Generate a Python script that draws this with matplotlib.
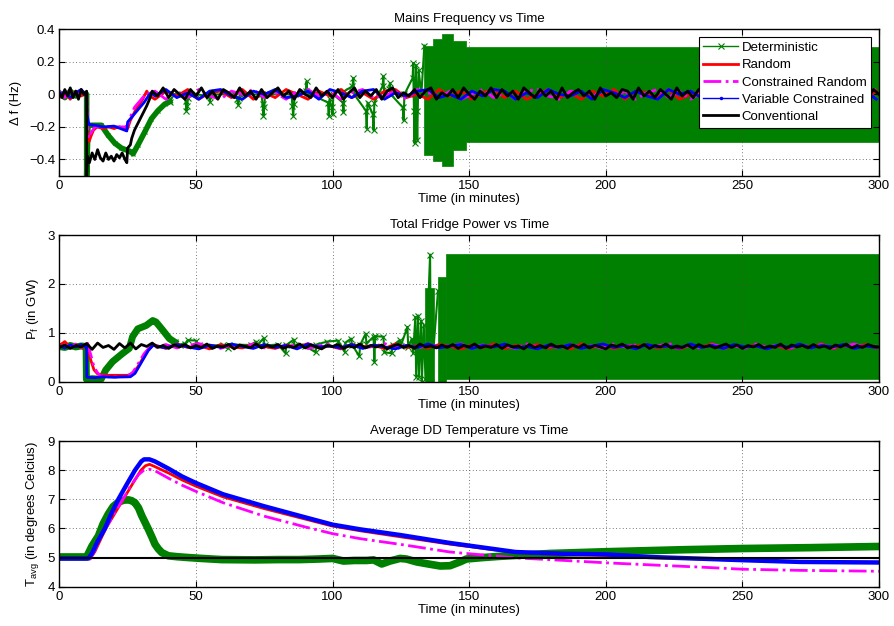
import numpy as np
import matplotlib
matplotlib.use('Agg')
import matplotlib.pyplot as plt
from matplotlib.lines import Line2D

plt.rcParams['font.family'] = ['Liberation Sans', 'DejaVu Sans']
plt.rcParams['mathtext.fontset'] = 'custom'
plt.rcParams['mathtext.rm'] = 'Liberation Sans'
plt.rcParams['mathtext.it'] = 'Liberation Sans'
plt.rcParams['mathtext.default'] = 'regular'

GREEN = '#008000'
RED = '#ff0000'
MAG = '#ff00ff'
BLUE = '#0000ff'
BLACK = '#000000'

names = ['Deterministic', 'Random', 'Constrained Random', 'Variable Constrained', 'Conventional']
xticks = [0, 50, 100, 150, 200, 250, 300]

# ---------------- panel 1: frequency deviation (Hz) ----------------
# pre-event samples (t = 0, 2, ... 10) and steady samples (t = 35, 39, ... 299)
red1_pre = [-0.02, 0.01, -0.03, 0.02, -0.01, 0.01]
red1_evt = [(10.3, -0.25), (10.9, -0.29), (11.5, -0.26), (12.5, -0.22), (13.8, -0.20), (16, -0.21),
            (18, -0.20), (20, -0.21), (22, -0.20), (24, -0.21), (25, -0.21), (26, -0.16), (27.8, -0.10),
            (29, -0.07), (30.5, -0.03), (32, 0.02), (33, -0.01)]
red1_ss = [-0.03, 0.02, -0.01, 0.03, -0.03, 0.01, 0.02, -0.02, 0.03, -0.03,
           0.01, -0.02, 0.03, 0.00, -0.03, 0.02, -0.01, 0.03, -0.02, 0.01,
           -0.03, 0.02, 0.03, -0.02, 0.00, -0.03, 0.03, -0.01, 0.02, -0.03,
           0.01, 0.03, -0.02, 0.02, -0.03, 0.00, 0.03, -0.02, 0.01, -0.03,
           0.02, -0.01, 0.03, -0.03, 0.02, 0.01, -0.02, 0.03, -0.03, 0.00,
           0.02, -0.02, 0.03, -0.01, -0.03, 0.02, 0.01, -0.02, 0.03, -0.03,
           0.01, 0.02, -0.02, 0.03, -0.01, -0.03, 0.02]

mag1_pre = [0.02, -0.02, 0.03, -0.01, 0.02, 0.00]
mag1_evt = [(10.3, -0.20), (10.8, -0.27), (11.5, -0.24), (13, -0.20), (16, -0.20), (20, -0.20),
            (24, -0.20), (25, -0.19), (26, -0.14), (27.5, -0.08), (29, -0.05), (30.5, -0.02),
            (32, 0.01), (33, 0.00)]
mag1_ss = [0.02, -0.03, 0.01, -0.02, 0.03, -0.01, -0.03, 0.02, 0.00, 0.03,
           -0.02, 0.01, -0.03, 0.02, 0.03, -0.01, 0.02, -0.03, 0.01, 0.03,
           -0.02, -0.01, 0.02, -0.03, 0.03, 0.01, -0.02, 0.02, -0.03, 0.00,
           0.03, -0.02, 0.01, -0.03, 0.02, 0.03, -0.01, -0.03, 0.02, 0.01,
           -0.02, 0.03, -0.01, 0.02, -0.03, 0.01, 0.03, -0.02, 0.02, -0.03,
           0.01, 0.00, -0.02, 0.03, -0.03, 0.02, -0.01, 0.03, 0.01, -0.02,
           0.02, -0.03, 0.03, 0.00, -0.02, 0.01, 0.03]

blue1_pre = [-0.01, 0.02, -0.02, 0.01, 0.03, -0.01]
blue1_evt = [(10.1, -0.12), (10.8, -0.185), (13, -0.19), (16, -0.20), (20, -0.195), (24.7, -0.225),
             (25, -0.17), (27, -0.13), (29, -0.09), (31, -0.05), (32.6, -0.01), (33.5, 0.01)]
blue1_ss = [-0.01, 0.03, -0.02, 0.01, -0.03, 0.02, 0.03, -0.01, -0.03, 0.02,
            0.00, 0.03, -0.02, -0.01, 0.02, -0.03, 0.03, 0.01, -0.02, 0.02,
            0.03, -0.03, 0.01, -0.01, 0.02, 0.03, -0.02, 0.00, -0.03, 0.02,
            -0.01, 0.03, 0.02, -0.03, 0.01, -0.02, 0.03, 0.00, -0.01, 0.02,
            -0.03, 0.03, 0.01, -0.02, 0.02, -0.01, -0.03, 0.03, 0.00, 0.02,
            -0.02, 0.03, -0.03, 0.01, 0.02, -0.01, 0.03, -0.02, 0.00, -0.03,
            0.02, 0.01, -0.02, 0.03, -0.01, 0.02, -0.03]

# conventional: pre-event every minute, steady every 2 minutes from t = 34
blk1_pre = [0.01, -0.02, 0.03, -0.01, 0.04, -0.02, 0.02, -0.03, 0.03, 0.00, 0.02]
blk1_evt = [(10.0, -0.50), (10.3, -0.38), (11, -0.42), (12, -0.36), (13, -0.40), (14, -0.34),
            (15, -0.39), (16, -0.41), (17, -0.36), (18, -0.40), (19, -0.38), (20, -0.41),
            (21, -0.37), (22, -0.39), (23, -0.36), (24, -0.40), (24.7, -0.42), (25, -0.33),
            (26, -0.31), (26.5, -0.27), (27.5, -0.22), (29, -0.17), (30.5, -0.12), (32, -0.07),
            (33, -0.03)]
blk1_ss = [0.02, -0.01, 0.04, -0.02, 0.03, 0.00, -0.03, 0.03, -0.01, 0.04,
           -0.02, 0.02, -0.03, 0.03, 0.01, -0.02, 0.04, -0.01, 0.02, -0.03,
           0.03, -0.02, 0.01, 0.04, -0.01, 0.02, -0.03, 0.03, 0.00, -0.02,
           0.04, -0.01, 0.02, -0.02, 0.03, -0.03, 0.01, 0.04, -0.02, 0.02,
           -0.01, 0.03, -0.03, 0.02, 0.04, -0.02, 0.01, -0.01, 0.03, -0.02,
           0.02, 0.04, -0.03, 0.01, -0.01, 0.03, -0.02, 0.04, 0.00, -0.03,
           0.02, -0.01, 0.04, -0.02, 0.03, -0.01, 0.02, -0.03, 0.04, 0.01,
           -0.02, 0.03, -0.01, 0.02, -0.03, 0.04, -0.02, 0.01, 0.03, -0.01,
           0.02, -0.03, 0.04, -0.01, 0.01, -0.02, 0.03, 0.02, -0.03, 0.04,
           -0.01, 0.02, -0.02, 0.03, 0.00, -0.03, 0.04, -0.01, 0.02, -0.02,
           0.03, -0.01, 0.04, -0.03, 0.02, 0.01, -0.02, 0.03, -0.01, 0.04,
           -0.02, 0.02, -0.03, 0.03, -0.01, 0.04, 0.00, -0.02, 0.03, -0.01,
           0.02, -0.03, 0.04, -0.02, 0.01, 0.03, -0.01, 0.02, -0.02, 0.03,
           0.01, -0.02, 0.03, 0.00]

# deterministic: thick transient, then spikes, then an oscillation band
grn1_pre = [0.01, -0.02, 0.02, -0.01, 0.01, 0.00]
grn1_trans = [(10.0, -0.50), (10.5, -0.19), (12, -0.19), (15.4, -0.19), (17.8, -0.25), (20.3, -0.30),
              (22.7, -0.33), (25.8, -0.35), (27, -0.365), (28.8, -0.31), (31.3, -0.23), (33.7, -0.15),
              (36.1, -0.10), (38.6, -0.06), (40.4, -0.045)]
grn1_spk = [(42, 0.0), (45, 0.0), (46.2, -0.04), (46.5, -0.10), (46.8, -0.07), (47.1, -0.02), (50, 0.0),
            (54.8, -0.01), (55.1, -0.045), (55.4, 0.0), (64, 0.0), (65.2, -0.03), (65.5, -0.065),
            (65.8, -0.02), (66.2, 0.0), (74, 0.0), (74.4, -0.06), (74.7, -0.13), (75.0, -0.08),
            (75.3, 0.0), (85, 0.0), (85.3, -0.07), (85.6, -0.13), (85.9, -0.06), (86.2, 0.0),
            (90.2, 0.02), (90.5, 0.08), (90.8, 0.01), (98.3, -0.05), (98.6, -0.13), (98.9, -0.03),
            (99.7, -0.08), (100, -0.12), (100.3, 0.0), (103.7, -0.05), (104, -0.11), (104.3, 0.02),
            (107.3, 0.05), (107.6, 0.10), (107.9, 0.0), (112.2, -0.10), (112.5, -0.21), (112.8, -0.05),
            (114.7, -0.12), (115, -0.22), (115.3, -0.05), (118.3, 0.05), (118.6, 0.11), (118.9, 0.0),
            (120.7, 0.03), (121, 0.07), (121.3, 0.0), (125.7, -0.08), (126, -0.16), (126.3, 0.0),
            (129.3, 0.10), (129.5, 0.19), (129.8, -0.10), (130, -0.30), (130.3, 0.0), (130.5, 0.18),
            (130.8, -0.10), (131, -0.28), (131.3, 0.0), (131.5, 0.15), (132.5, 0.0), (133.6, 0.30)]
# oscillation envelope: segment starts, and low / high edge from each start (last entry closes)
band1_t = [133.6, 136.9, 140.0, 144.2, 149.0, 300.0]
band1_lo = [-0.37, -0.41, -0.44, -0.34, -0.29, -0.29]
band1_hi = [0.30, 0.34, 0.37, 0.33, 0.29, 0.29]

# ---------------- panel 2: total fridge power (GW) ----------------
red2_pre = [0.74, 0.82, 0.70, 0.76, 0.69, 0.73]
red2_evt = [(10.3, 0.78), (11.5, 0.44), (12.7, 0.24), (14, 0.16), (15.2, 0.14), (18, 0.13), (22, 0.13),
            (25, 0.13), (26.8, 0.17), (28.7, 0.30), (30.5, 0.47), (32.3, 0.64), (34.2, 0.74)]
red2_ss = [0.75, 0.68, 0.77, 0.70, 0.74, 0.67, 0.76, 0.71, 0.69, 0.77,
           0.72, 0.68, 0.75, 0.70, 0.78, 0.69, 0.73, 0.67, 0.76, 0.71,
           0.74, 0.68, 0.77, 0.70, 0.73, 0.69, 0.76, 0.72, 0.67, 0.75,
           0.70, 0.77, 0.68, 0.74, 0.71, 0.76, 0.69, 0.73, 0.67, 0.77,
           0.70, 0.75, 0.68, 0.74, 0.72, 0.76, 0.69, 0.73, 0.67, 0.75,
           0.71, 0.77, 0.68, 0.74, 0.70, 0.76, 0.69, 0.72, 0.67, 0.75,
           0.71, 0.77, 0.68, 0.74, 0.70, 0.76, 0.69]

mag2_pre = [0.71, 0.75, 0.72, 0.77, 0.70, 0.74]
mag2_evt = [(10.3, 0.78), (11.5, 0.55), (12.7, 0.30), (14, 0.18), (15, 0.12), (18, 0.10), (22, 0.10),
            (25, 0.10), (27, 0.20), (29, 0.38), (31, 0.57), (33, 0.70), (34.5, 0.76)]
mag2_ss = [0.70, 0.76, 0.69, 0.74, 0.78, 0.71, 0.68, 0.75, 0.72, 0.77,
           0.69, 0.74, 0.71, 0.76, 0.68, 0.73, 0.77, 0.70, 0.75, 0.69,
           0.72, 0.78, 0.70, 0.74, 0.68, 0.76, 0.71, 0.73, 0.77, 0.69,
           0.75, 0.70, 0.74, 0.68, 0.77, 0.71, 0.73, 0.69, 0.76, 0.70,
           0.74, 0.68, 0.77, 0.71, 0.75, 0.69, 0.73, 0.78, 0.70, 0.74,
           0.68, 0.76, 0.71, 0.73, 0.69, 0.77, 0.70, 0.75, 0.68, 0.74,
           0.72, 0.76, 0.69, 0.73, 0.77, 0.70, 0.74]

blue2_pre = [0.73, 0.69, 0.75, 0.71, 0.76, 0.70]
blue2_evt = [(10.0, 0.72), (10.05, 0.09), (13, 0.08), (16, 0.10), (20, 0.09), (24, 0.10), (26, 0.10),
             (27.7, 0.17), (30.2, 0.41), (32.6, 0.64), (34.4, 0.75)]
blue2_ss = [0.73, 0.69, 0.76, 0.71, 0.67, 0.75, 0.70, 0.77, 0.72, 0.68,
            0.76, 0.70, 0.74, 0.67, 0.77, 0.71, 0.73, 0.69, 0.76, 0.68,
            0.75, 0.71, 0.67, 0.74, 0.70, 0.77, 0.69, 0.73, 0.76, 0.68,
            0.74, 0.71, 0.77, 0.69, 0.72, 0.67, 0.75, 0.70, 0.76, 0.68,
            0.73, 0.77, 0.70, 0.74, 0.67, 0.76, 0.71, 0.73, 0.69, 0.77,
            0.70, 0.74, 0.68, 0.76, 0.71, 0.73, 0.67, 0.75, 0.70, 0.77,
            0.69, 0.74, 0.71, 0.76, 0.68, 0.73, 0.70]

# conventional power, every 2 minutes from t = 0
blk2 = [0.70, 0.75, 0.68, 0.74, 0.71, 0.78, 0.66, 0.79, 0.70, 0.74,
        0.66, 0.78, 0.69, 0.79, 0.67, 0.76, 0.72, 0.79, 0.70, 0.74,
        0.68, 0.75, 0.71, 0.76, 0.69, 0.74, 0.70, 0.77, 0.68, 0.73,
        0.71, 0.76, 0.67, 0.75, 0.72, 0.70, 0.77, 0.69, 0.74, 0.71,
        0.76, 0.68, 0.73, 0.70, 0.77, 0.69, 0.75, 0.71, 0.67, 0.74,
        0.72, 0.76, 0.68, 0.73, 0.70, 0.77, 0.69, 0.74, 0.71, 0.75,
        0.67, 0.73, 0.76, 0.70, 0.74, 0.68, 0.77, 0.71, 0.73, 0.69,
        0.75, 0.70, 0.76, 0.68, 0.74, 0.71, 0.77, 0.69, 0.73, 0.70,
        0.76, 0.68, 0.75, 0.71, 0.73, 0.67, 0.76, 0.70, 0.74, 0.69,
        0.77, 0.71, 0.73, 0.68, 0.75, 0.70, 0.76, 0.69, 0.74, 0.71,
        0.67, 0.75, 0.72, 0.77, 0.69, 0.73, 0.70, 0.76, 0.68, 0.74,
        0.71, 0.77, 0.69, 0.73, 0.70, 0.75, 0.68, 0.76, 0.71, 0.74,
        0.69, 0.73, 0.77, 0.70, 0.75, 0.68, 0.74, 0.71, 0.76, 0.69,
        0.73, 0.70, 0.77, 0.68, 0.75, 0.71, 0.74, 0.69, 0.76, 0.70,
        0.73, 0.68, 0.75, 0.71, 0.77, 0.69, 0.74, 0.70, 0.76, 0.72,
        0.71]

grn2_pre = [0.72, 0.70, 0.74, 0.71, 0.73, 0.72]
grn2_trans = [(9.8, 0.72), (9.9, 0.05), (12, 0.06), (15.3, 0.05), (17, 0.24), (19.5, 0.41), (23.2, 0.58),
              (25.6, 0.68), (26.8, 0.92), (28.7, 1.08), (31.8, 1.15), (34.2, 1.25), (35.4, 1.22),
              (37.9, 1.05), (40.3, 0.88), (42.2, 0.81)]
grn2_spk = [(44, 0.76), (46, 0.78), (47, 0.85), (50, 0.84), (51, 0.75), (60, 0.74), (61.8, 0.68),
            (62.1, 0.76), (70, 0.75), (72, 0.82), (72.3, 0.74), (74.8, 0.89), (75.1, 0.74), (80, 0.76),
            (82.8, 0.58), (83.1, 0.75), (85.8, 0.86), (86.1, 0.74), (90, 0.73), (93.8, 0.60),
            (94.1, 0.76), (98, 0.82), (102, 0.84), (104.4, 0.61), (104.7, 0.80), (106.8, 0.88),
            (107.1, 0.76), (109.8, 0.52), (110.1, 0.75), (112.1, 0.98), (112.4, 0.78), (115, 0.92),
            (115.3, 0.41), (115.6, 0.93), (118.6, 0.92), (119, 0.60), (121.6, 0.58), (122, 0.74),
            (124.6, 0.85), (124.9, 0.72), (127.4, 1.12), (127.7, 0.70), (129, 0.88), (129.5, 0.58),
            (130.3, 1.32), (130.6, 0.10), (131.3, 1.34), (131.6, 0.10), (132.4, 1.25), (132.7, 0.0),
            (133.4, 1.15), (134, 0.05), (135.7, 2.60), (136.0, 0.0), (138.6, 1.86)]
# power envelope: separate blocks (start, end, low, high)
band2_t0 = [134.0, 138.6, 141.5]
band2_t1 = [137.2, 141.5, 300.0]
band2_lo = [0.0, 0.0, 0.06]
band2_hi = [1.92, 2.15, 2.62]

# ---------------- panel 3: average temperature (deg C) ----------------
grn3_t = [0, 10, 12, 14.3, 16, 17.9, 19.7, 21.6, 23.5, 25.3, 26.5, 27.7, 29, 30.2, 31.4, 32.6, 34, 35,
          36.2, 37.5, 39.9, 43, 47.2, 52, 59.4, 71.6, 80, 88, 95, 100, 104, 108, 112.5, 115, 118, 121,
          124.7, 127, 130.8, 135, 139.4, 143, 146.6, 149, 155, 161, 179.5, 200, 228.8, 250, 275, 300]
grn3_v = [5.02, 5.02, 5.40, 5.74, 6.15, 6.49, 6.75, 6.90, 6.97, 6.98, 6.95, 6.88, 6.70, 6.43, 6.20,
          5.97, 5.68, 5.46, 5.30, 5.17, 5.06, 5.03, 5.00, 4.97, 4.93, 4.92, 4.93, 4.93, 4.95, 4.97,
          4.88, 4.90, 4.90, 4.92, 4.78, 4.88, 4.97, 4.95, 4.85, 4.78, 4.71, 4.72, 4.85, 4.95, 5.00,
          5.04, 5.14, 5.20, 5.27, 5.31, 5.34, 5.38]
red3_t = [0, 11.3, 13, 15, 17, 20.2, 23.4, 26.6, 29.9, 31.5, 33, 35, 40, 45, 50, 60, 75, 90, 100, 110,
          125, 143, 167, 185, 200, 216, 235, 250, 271, 300]
red3_v = [4.97, 4.97, 5.20, 5.60, 6.00, 6.50, 7.00, 7.50, 8.00, 8.15, 8.20, 8.12, 7.90, 7.66, 7.45,
          7.08, 6.68, 6.32, 6.08, 5.92, 5.71, 5.46, 5.17, 5.10, 5.07, 5.00, 4.95, 4.90, 4.86, 4.84]
mag3_t = [0, 11.3, 13, 15, 17, 20, 23.3, 26, 29, 31, 33, 35, 40, 45, 50, 60, 75, 90, 100, 110, 125,
          143, 167, 185, 200, 216, 235, 250, 271, 300]
mag3_v = [4.96, 4.95, 5.25, 5.65, 6.00, 6.50, 7.00, 7.45, 7.85, 8.00, 8.03, 7.98, 7.72, 7.48, 7.27,
          6.88, 6.42, 6.05, 5.82, 5.65, 5.45, 5.19, 4.99, 4.90, 4.82, 4.75, 4.67, 4.60, 4.56, 4.53]
blue3_t = [0, 10.6, 12, 14, 16.7, 19, 21.6, 24.6, 27.7, 30, 31, 33, 35, 40, 45, 50, 60, 75, 90, 100,
           110, 125, 143, 167, 185, 200, 216, 235, 250, 271, 300]
blue3_v = [4.97, 4.97, 5.15, 5.55, 6.00, 6.50, 7.00, 7.50, 8.00, 8.30, 8.37, 8.37, 8.30, 8.05, 7.78,
           7.56, 7.17, 6.76, 6.38, 6.13, 5.97, 5.77, 5.50, 5.19, 5.13, 5.11, 5.02, 4.96, 4.91, 4.85,
           4.83]
blk3_t = [0, 300]
blk3_v = [5.0, 5.0]


def series(pre, pre_step, evt, ss, ss_start, ss_step):
    t = list(np.arange(len(pre)) * pre_step)
    v = list(pre)
    t += [p[0] for p in evt]
    v += [p[1] for p in evt]
    t += list(ss_start + np.arange(len(ss)) * ss_step)
    v += list(ss)
    return np.array(t), np.array(v)


def pts(lst):
    return [p[0] for p in lst], [p[1] for p in lst]


def style(ax, yt, ylab, ylim, title, ylabel):
    ax.set_xlim(0, 300)
    ax.set_ylim(*ylim)
    ax.set_xticks(xticks)
    ax.set_xticklabels([str(x) for x in xticks])
    ax.set_yticks(yt)
    ax.set_yticklabels(ylab)
    ax.tick_params(direction='in', top=True, right=True, length=4, width=0.8,
                   labelsize=9.5, pad=3)
    ax.grid(True, linestyle=(0, (1, 3)), color='0.3', linewidth=0.6)
    for s in ax.spines.values():
        s.set_linewidth(1.0)
    ax.set_title(title, fontsize=9.5, pad=5)
    ax.set_xlabel('Time (in minutes)', fontsize=9.5, labelpad=1)
    ax.set_ylabel(ylabel, fontsize=9.5, labelpad=5)


fig = plt.figure(figsize=(8.95, 6.26), dpi=100)
L, W = 0.0663, 0.9158
ax1 = fig.add_axes([L, 0.7193, W, 0.2339])
ax2 = fig.add_axes([L, 0.3903, W, 0.2343])
ax3 = fig.add_axes([L, 0.0628, W, 0.2327])

# ---- panel 1
ax1.fill_between(band1_t, band1_lo, band1_hi, step='post', color=GREEN, lw=0.5, edgecolor=GREEN)
t, v = pts(grn1_trans)
ax1.plot(list(np.arange(len(grn1_pre)) * 2) + t, grn1_pre + v, color=GREEN, lw=4)
ax1.plot(t, v, color=GREEN, lw=0, marker='x', ms=3, mew=0.8)
t, v = pts(grn1_spk)
ax1.plot([40.4] + t, [-0.045] + v, color=GREEN, lw=1.5, marker='x', ms=4, mew=0.8)

for pre, evt, ss, c, ls in [(red1_pre, red1_evt, red1_ss, RED, '-'),
                            (mag1_pre, mag1_evt, mag1_ss, MAG, '-.'),
                            (blue1_pre, blue1_evt, blue1_ss, BLUE, '-')]:
    t, v = series(pre, 2, evt, ss, 35, 4)
    ax1.plot(t, v, color=c, ls=ls, lw=2)
t, v = series(blk1_pre, 1, blk1_evt, blk1_ss, 34, 2)
ax1.plot(t, v, color=BLACK, lw=2)

style(ax1, [-0.4, -0.2, 0, 0.2, 0.4], ['\u22120.4', '\u22120.2', '0', '0.2', '0.4'],
      (-0.5, 0.4), 'Mains Frequency vs Time', '\u0394 f (Hz)')

handles = [Line2D([], [], color=GREEN, lw=1, marker='x', ms=4, mew=0.8),
           Line2D([], [], color=RED, lw=2),
           Line2D([], [], color=MAG, lw=2, ls='-.'),
           Line2D([], [], color=BLUE, lw=1, marker='.', ms=3),
           Line2D([], [], color=BLACK, lw=2)]
leg = ax1.legend(handles, names, loc='upper right', fontsize=9.5, frameon=True, fancybox=False,
                 framealpha=1, edgecolor='black', borderpad=0.35, labelspacing=0.38,
                 handlelength=2.6, handletextpad=0.3, borderaxespad=0.6)
leg.get_frame().set_linewidth(0.8)

# ---- panel 2
for a, b, lo, hi in zip(band2_t0, band2_t1, band2_lo, band2_hi):
    ax2.fill_between([a, b], [lo, lo], [hi, hi], color=GREEN, lw=0.5, edgecolor=GREEN)
t, v = pts(grn2_trans)
ax2.plot(list(np.arange(len(grn2_pre)) * 2) + t, grn2_pre + v, color=GREEN, lw=5)
t, v = pts(grn2_spk)
ax2.plot([42.2] + t, [0.81] + v, color=GREEN, lw=1.5, marker='x', ms=4, mew=0.8)

for pre, evt, ss, c, ls in [(red2_pre, red2_evt, red2_ss, RED, '-'),
                            (mag2_pre, mag2_evt, mag2_ss, MAG, '-.'),
                            (blue2_pre, blue2_evt, blue2_ss, BLUE, '-')]:
    t, v = series(pre, 2, evt, ss, 35, 4)
    ax2.plot(t, v, color=c, ls=ls, lw=2)
ax2.plot(np.arange(len(blk2)) * 2, blk2, color=BLACK, lw=2)

style(ax2, [0, 1, 2, 3], ['0', '1', '2', '3'], (0, 3), 'Total Fridge Power vs Time',
      'P$_f$ (in GW)')

# ---- panel 3
ax3.plot(grn3_t, grn3_v, color=GREEN, lw=5.5)
ax3.plot(red3_t, red3_v, color=RED, lw=2)
ax3.plot(mag3_t, mag3_v, color=MAG, lw=2, ls='-.')
ax3.plot(blue3_t, blue3_v, color=BLUE, lw=3.2)
ax3.plot(blk3_t, blk3_v, color=BLACK, lw=1.5)

style(ax3, [4, 5, 6, 7, 8, 9], ['4', '5', '6', '7', '8', '9'], (4, 9),
      'Average DD Temperature vs Time', 'T$_{avg}$ (in degrees Celcius)')

fig.savefig('out.png', dpi=100)
